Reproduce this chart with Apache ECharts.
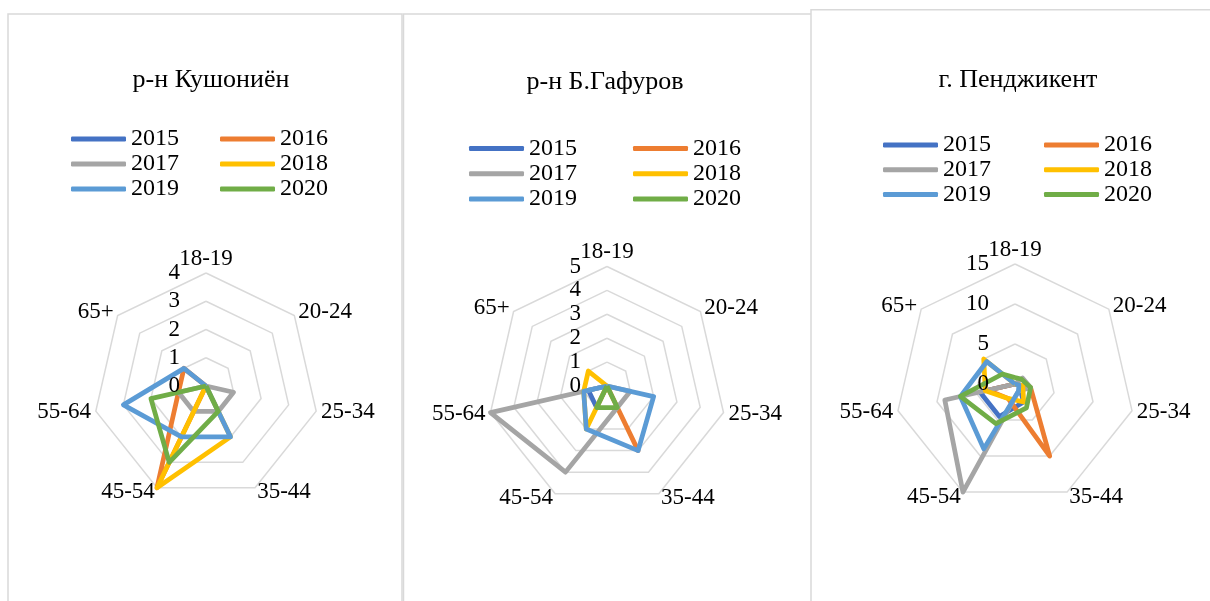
<!DOCTYPE html>
<html><head><meta charset="utf-8">
<script src="https://cdn.jsdelivr.net/npm/echarts@6/dist/echarts.min.js"></script>
<style>html,body{margin:0;padding:0;background:#fff}#c{width:1210px;height:601px}</style>
</head><body><div id="c"></div>
<script>
const categories = ['18-19','20-24','25-34','35-44','45-54','55-64','65+'];
const years = ['2015','2016','2017','2018','2019','2020'];
const colors = ['#4472C4','#ED7D31','#A5A5A5','#FFC000','#5B9BD5','#70AD47'];
const titles = ['р-н Кушониён','р-н Б.Гафуров','г. Пенджикент'];
const axisMax = [4, 5, 15];
const axisSplit = [4, 5, 3];

// р-н Кушониён
const kush2015 = [0, 0, 0, 0, 0, 0, 0];
const kush2016 = [0, 0, 0, 0, 4, 1, 1];
const kush2017 = [0, 0, 1, 1, 1, 1, 0];
const kush2018 = [0, 0, 0, 2, 4, 0, 0];
const kush2019 = [0, 0, 0, 2, 2, 3, 1];
const kush2020 = [0, 0, 0, 1, 3, 2, 0];
// р-н Б.Гафуров
const gaf2015 = [0, 0, 0, 0, 1, 0.8, 0];
const gaf2016 = [0, 0, 0, 3, 0, 0, 0];
const gaf2017 = [0, 0, 1, 1, 4, 5, 0];
const gaf2018 = [0, 0, 0, 0, 2, 1, 1];
const gaf2019 = [0, 0, 2, 3, 2, 1, 0];
const gaf2020 = [0, 0, 0, 1, 1, 0, 0];
// г. Пенджикент
const pen2015 = [0, 0, 0.5, 2.5, 4.5, 4.5, 0];
const pen2016 = [0, 0, 2, 10, 2, 3.5, 0];
const pen2017 = [0, 1.2, 2, 1, 15, 9, 0];
const pen2018 = [0, 0, 1, 2.5, 2, 3.8, 5];
const pen2019 = [0, 0, 0.5, 1, 9, 7, 4.5];
const pen2020 = [0.8, 1, 2, 3.3, 5.5, 7, 2];

const panelData = [
  [kush2015, kush2016, kush2017, kush2018, kush2019, kush2020],
  [gaf2015, gaf2016, gaf2017, gaf2018, gaf2019, gaf2020],
  [pen2015, pen2016, pen2017, pen2018, pen2019, pen2020]
];

// layout
const FONT = 'Liberation Serif';
const centers = [[206, 386], [607, 386], [1015, 384]];
const radii = [113, 119.5, 120];
const titlePos = [[211, 67], [605, 69], [1018, 67]];
const legendCols = [[71, 220], [469, 633], [883, 1044]];
const legendTop = [127, 136.5, 133];
const legendGap = [1, 1.3, 0.7];

// ECharts radar runs counter-clockwise: reorder so that it reads clockwise
const order = [0, 6, 5, 4, 3, 2, 1];

const radar = [], overlay = [], series = [], legend = [], title = [];
for (let p = 0; p < 3; p++) {
  const base = {
    center: centers[p], radius: radii[p], startAngle: 90, shape: 'polygon',
    splitNumber: axisSplit[p],
    axisLine: { show: false }, axisTick: { show: false },
    splitArea: { show: false }
  };
  radar.push(Object.assign({}, base, {
    indicator: order.map(k => ({ name: categories[k], min: 0, max: axisMax[p] })),
    nameGap: 5,
    axisName: {
      color: '#000', fontSize: 23, fontFamily: FONT,
      formatter: (name) => name === categories[0] ? '{t|' + name + '}' : name,
      rich: { t: { fontSize: 23, fontFamily: FONT, color: '#000', lineHeight: 19 } }
    },
    axisLabel: { show: false },
    splitLine: { lineStyle: { color: '#d9d9d9', width: 1.5 } }
  }));
  // overlay radar: tick labels on the first axis, drawn above the series
  overlay.push(Object.assign({}, base, {
    z: 10,
    indicator: order.map((k, j) => {
      const ind = { name: categories[k], min: 0, max: axisMax[p] };
      if (j !== 0) ind.axisLabel = { show: false };
      return ind;
    }),
    axisName: { show: false },
    axisLabel: { show: true, color: '#000', fontSize: 23, fontFamily: FONT, margin: 26 },
    splitLine: { show: false }
  }));
  years.forEach((y, i) => {
    series.push({
      type: 'radar', radarIndex: p, name: y, symbol: 'none', silent: true,
      lineStyle: { color: colors[i], width: 4.75, join: 'round' },
      itemStyle: { color: colors[i] },
      data: [{ name: y, value: order.map(k => panelData[p][i][k]) }]
    });
  });
  title.push({
    text: titles[p], left: titlePos[p][0], top: titlePos[p][1], textAlign: 'center', padding: 0,
    textStyle: { fontFamily: FONT, fontSize: 26, fontWeight: 'normal', color: '#000' }
  });
  [[0, 2, 4], [1, 3, 5]].forEach((idxs, c) => {
    legend.push({
      orient: 'vertical', left: legendCols[p][c], top: legendTop[p], padding: 0,
      itemWidth: 55, itemHeight: 5, itemGap: legendGap[p], icon: 'roundRect',
      selectedMode: false,
      data: idxs.map(i => years[i]),
      textStyle: { fontFamily: FONT, fontSize: 24, color: '#000' }
    });
  });
}

const chart = echarts.init(document.getElementById('c'), null, { renderer: 'canvas' });
chart.setOption({
  animation: false,
  backgroundColor: '#fff',
  graphic: [
    { type: 'rect', shape: { x: 8, y: 14, width: 394, height: 620 }, style: { fill: '#fff', stroke: '#d9d9d9', lineWidth: 1.5 }, z: -10 },
    { type: 'rect', shape: { x: 403.5, y: 14, width: 420, height: 620 }, style: { fill: '#fff', stroke: '#d9d9d9', lineWidth: 1.5 }, z: -10 },
    { type: 'rect', shape: { x: 811, y: 9.7, width: 420, height: 620 }, style: { fill: '#fff', stroke: '#d9d9d9', lineWidth: 1.5 }, z: -9 }
  ],
  title, legend, radar: radar.concat(overlay), series
});
</script></body></html>
